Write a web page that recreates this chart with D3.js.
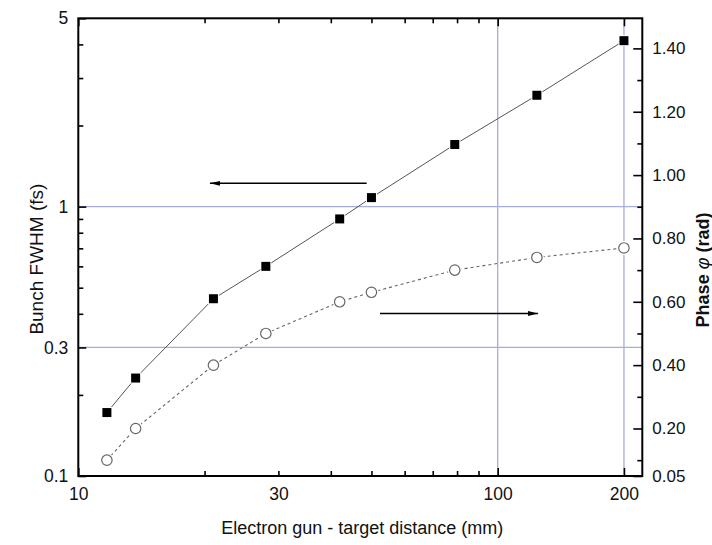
<!DOCTYPE html>
<html>
<head>
<meta charset="utf-8">
<script src="https://cdn.jsdelivr.net/npm/d3@7"></script>
<style>
  body { margin: 0; background: #fff; }
  svg { display: block; font-family: "Liberation Sans", Arial, sans-serif; }
</style>
</head>
<body>
<div id="chart"></div>
<script>
// data
const distance = [11.7, 13.7, 21, 28, 42, 50, 79, 124, 200];   // mm
const fwhm     = [0.172, 0.231, 0.455, 0.60, 0.90, 1.08, 1.70, 2.59, 4.13]; // fs
const phase    = [0.10, 0.20, 0.40, 0.50, 0.60, 0.63, 0.70, 0.74, 0.77];   // rad

const xTicks = [10, 30, 100, 200];
const xMajor = [10, 100, 200];
const xMinor = [20, 30, 40, 50, 60, 70, 80, 90];
const yLeftTicks = [0.1, 0.3, 1, 5];
const yLeftMinor = [0.2, 0.4, 0.5, 0.6, 0.7, 0.8, 0.9, 2, 3, 4];
const yRightTicks = [0.05, 0.20, 0.40, 0.60, 0.80, 1.00, 1.20, 1.40];
const yRightMinor = [0.10, 0.30, 0.50, 0.70, 0.90, 1.10, 1.30];
const gridX = [100, 200];
const gridY = [0.3, 1];

// arrows: [x tail, x tip, y value] (left arrow on fwhm axis, right arrow on phase axis)
const arrowLeft = [48.7, 20.6, 1.22];
const arrowRight = [52.4, 124.8, 0.563];

const width = 712, height = 545;
const margin = { top: 18.3, right: 69.7, bottom: 69, left: 78.3 };

const svg = d3.select("#chart").append("svg")
    .attr("width", width)
    .attr("height", height);

const x = d3.scaleLog().domain([10, 221.2]).range([margin.left, width - margin.right]);
const yL = d3.scaleLog().domain([0.1, 5]).range([height - margin.bottom, margin.top]);
const yR = d3.scaleLinear().domain([0.05, 1.495]).range([height - margin.bottom, margin.top]);

const gridColor = "#a7acdc";

// grid lines
svg.append("g")
    .selectAll("line.gx")
    .data(gridX)
    .enter().append("line")
    .attr("x1", d => x(d)).attr("x2", d => x(d))
    .attr("y1", yL.range()[0]).attr("y2", yL.range()[1])
    .attr("stroke", gridColor).attr("stroke-width", 1.3);

svg.append("g")
    .selectAll("line.gy")
    .data(gridY)
    .enter().append("line")
    .attr("x1", x.range()[0]).attr("x2", x.range()[1])
    .attr("y1", d => yL(d)).attr("y2", d => yL(d))
    .attr("stroke", gridColor).attr("stroke-width", 1.3);

// axes
function styleAxis(g, fontSize) {
    g.select(".domain").remove();
    g.selectAll(".tick line").attr("stroke", "#000").attr("stroke-width", 1.6);
    g.selectAll(".tick text").attr("fill", "#111").attr("font-size", fontSize)
        .attr("font-family", "'Liberation Sans', Arial, sans-serif");
}

const bottom = height - margin.bottom, right = width - margin.right;

svg.append("g").attr("transform", `translate(0,${bottom})`)
    .call(d3.axisBottom(x).tickValues(xMajor).tickSize(-8).tickFormat(""))
    .call(g => styleAxis(g, 17));
svg.append("g").attr("transform", `translate(0,${bottom})`)
    .call(d3.axisBottom(x).tickValues(xMinor).tickSize(-5).tickFormat(""))
    .call(g => styleAxis(g, 17));
svg.append("g").attr("transform", `translate(0,${bottom})`)
    .call(d3.axisBottom(x).tickValues(xTicks).tickSize(0).tickPadding(12).tickFormat(d3.format("d")))
    .call(g => styleAxis(g, 17.5));

svg.append("g").attr("transform", `translate(0,${margin.top})`)
    .call(d3.axisTop(x).tickValues(xMajor).tickSize(-8).tickFormat(""))
    .call(g => styleAxis(g, 17));
svg.append("g").attr("transform", `translate(0,${margin.top})`)
    .call(d3.axisTop(x).tickValues(xMinor).tickSize(-5).tickFormat(""))
    .call(g => styleAxis(g, 17));

svg.append("g").attr("transform", `translate(${margin.left},0)`)
    .call(d3.axisLeft(yL).tickValues(yLeftTicks).tickSize(-8).tickPadding(10).tickFormat(d => String(d)))
    .call(g => styleAxis(g, 17.5));
svg.append("g").attr("transform", `translate(${margin.left},0)`)
    .call(d3.axisLeft(yL).tickValues(yLeftMinor).tickSize(-5).tickFormat(""))
    .call(g => styleAxis(g, 17));

svg.append("g").attr("transform", `translate(${right},0)`)
    .call(d3.axisRight(yR).tickValues(yRightTicks).tickSize(-9).tickPadding(10).tickFormat(d3.format(".2f")))
    .call(g => styleAxis(g, 17));
svg.append("g").attr("transform", `translate(${right},0)`)
    .call(d3.axisRight(yR).tickValues(yRightMinor).tickSize(-5).tickFormat(""))
    .call(g => styleAxis(g, 17));

// frame
svg.append("rect")
    .attr("x", margin.left).attr("y", margin.top)
    .attr("width", right - margin.left).attr("height", bottom - margin.top)
    .attr("fill", "none").attr("stroke", "#000").attr("stroke-width", 2);

// series
const pts = distance.map((d, i) => ({ d: d, f: fwhm[i], p: phase[i] }));

svg.append("path")
    .datum(pts)
    .attr("fill", "none")
    .attr("stroke", "#555")
    .attr("stroke-width", 1)
    .attr("d", d3.line().x(d => x(d.d)).y(d => yL(d.f)));

svg.append("path")
    .datum(pts)
    .attr("fill", "none")
    .attr("stroke", "#666")
    .attr("stroke-width", 1.1)
    .attr("stroke-dasharray", "3,3")
    .attr("d", d3.line().x(d => x(d.d)).y(d => yR(d.p)));

// markers with a small white halo so the lines stop short of them
const sq = 9;
svg.append("g")
    .selectAll("rect")
    .data(pts)
    .enter().append("rect")
    .attr("x", d => x(d.d) - sq / 2)
    .attr("y", d => yL(d.f) - sq / 2)
    .attr("width", sq).attr("height", sq)
    .attr("fill", "#000")
    .attr("stroke", "#fff").attr("stroke-width", 2)
    .attr("paint-order", "stroke");

svg.append("g")
    .selectAll("circle.halo")
    .data(pts)
    .enter().append("circle")
    .attr("cx", d => x(d.d)).attr("cy", d => yR(d.p))
    .attr("r", 7).attr("fill", "#fff");

svg.append("g")
    .selectAll("circle.mk")
    .data(pts)
    .enter().append("circle")
    .attr("cx", d => x(d.d)).attr("cy", d => yR(d.p))
    .attr("r", 5.2)
    .attr("fill", "#fff")
    .attr("stroke", "#666").attr("stroke-width", 1.2);

// arrows
svg.append("defs").append("marker")
    .attr("id", "head")
    .attr("viewBox", "0 0 10 6")
    .attr("refX", 10).attr("refY", 3)
    .attr("markerWidth", 10).attr("markerHeight", 6)
    .attr("markerUnits", "userSpaceOnUse")
    .attr("orient", "auto")
    .append("path")
    .attr("d", "M0,0.6 L10,3 L0,5.4 Z")
    .attr("fill", "#000");

svg.append("line")
    .attr("x1", x(arrowLeft[0])).attr("x2", x(arrowLeft[1]))
    .attr("y1", yL(arrowLeft[2])).attr("y2", yL(arrowLeft[2]))
    .attr("stroke", "#000").attr("stroke-width", 1.5)
    .attr("marker-end", "url(#head)");

svg.append("line")
    .attr("x1", x(arrowRight[0])).attr("x2", x(arrowRight[1]))
    .attr("y1", yR(arrowRight[2])).attr("y2", yR(arrowRight[2]))
    .attr("stroke", "#000").attr("stroke-width", 1.5)
    .attr("marker-end", "url(#head)");

// axis titles
svg.append("text")
    .attr("x", (margin.left + right) / 2 + 2)
    .attr("y", 534)
    .attr("text-anchor", "middle")
    .attr("font-size", 18)
    .attr("fill", "#111")
    .text("Electron gun - target distance (mm)");

svg.append("text")
    .attr("transform", `translate(43,${(margin.top + bottom) / 2 + 12}) rotate(-90)`)
    .attr("text-anchor", "middle")
    .attr("font-size", 19)
    .attr("fill", "#111")
    .text("Bunch FWHM (fs)");

const rt = svg.append("text")
    .attr("transform", `translate(709,270) rotate(-90)`)
    .attr("text-anchor", "middle")
    .attr("font-size", 18)
    .attr("font-weight", "bold")
    .attr("fill", "#111");
rt.append("tspan").text("Phase ");
rt.append("tspan").attr("font-style", "italic").attr("font-weight", "normal").text("φ");
rt.append("tspan").text(" (rad)");
</script>
</body>
</html>
